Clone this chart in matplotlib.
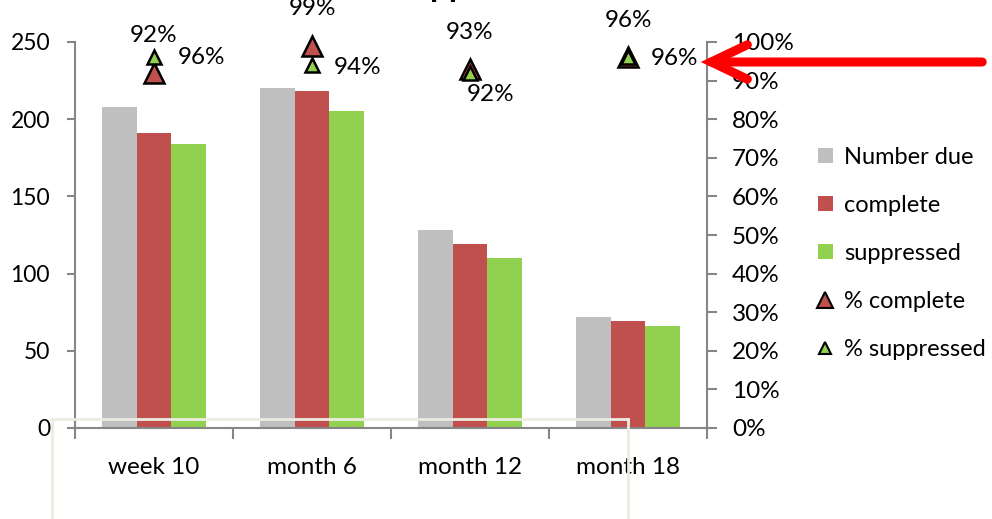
import matplotlib
matplotlib.use("Agg")
import matplotlib.pyplot as plt
import numpy as np
from matplotlib.lines import Line2D
from matplotlib.patches import Patch, FancyArrowPatch
from matplotlib.ticker import PercentFormatter, FixedLocator

plt.rcParams['font.family'] = ['Lato', 'DejaVu Sans']

categories = ["week 10", "month 6", "month 12", "month 18"]
number_due = [208, 220, 128, 72]
complete = [191, 218, 119, 69]
suppressed = [184, 205, 110, 66]
pct_complete = [0.92, 0.99, 0.93, 0.96]
pct_suppressed = [0.96, 0.94, 0.92, 0.96]

GRAY = "#BFBFBF"
RED = "#C0504D"
GREEN = "#92D050"
AXC = "#868686"
FS = 17.5

W, H = 992, 519
fig = plt.figure(figsize=(W / 100, H / 100), dpi=100)
ax = fig.add_axes([75 / W, 1 - 428 / H, (707 - 75) / W, (428 - 42) / H])
ax2 = ax.twinx()

x = np.arange(len(categories))
bw = 0.22
ax.bar(x - bw, number_due, bw, color=GRAY, label="Number due")
ax.bar(x, complete, bw, color=RED, label="complete")
ax.bar(x + bw, suppressed, bw, color=GREEN, label="suppressed")

ax.set_xlim(-0.5, 3.5)
ax.set_ylim(0, 250)
ax.set_yticks([0, 50, 100, 150, 200, 250])
ax2.set_ylim(0, 1)
ax2.set_yticks(np.arange(0, 1.01, 0.1))
ax2.yaxis.set_major_formatter(PercentFormatter(1.0, decimals=0))

ax.set_xticks(x)
ax.set_xticklabels(categories)
ax.xaxis.set_minor_locator(FixedLocator([-0.5, 0.5, 1.5, 2.5, 3.5]))
ax.tick_params(axis='x', which='major', length=0, pad=21, labelsize=FS)
ax.tick_params(axis='x', which='minor', length=8, width=1.5, color=AXC, direction='out')
ax.tick_params(axis='y', length=6, width=1.5, color=AXC, pad=12, labelsize=16.5)
ax2.tick_params(axis='y', length=7, width=1.5, color=AXC, pad=11, labelsize=FS)

for a in (ax, ax2):
    a.spines['top'].set_visible(False)
    for s in ('left', 'right', 'bottom'):
        a.spines[s].set_color(AXC)
        a.spines[s].set_linewidth(1.5)
ax.spines['right'].set_visible(False)
ax2.spines['left'].set_visible(False)
ax2.spines['bottom'].set_visible(False)

ax2.plot(x, pct_complete, linestyle='none', marker='^', markersize=15,
         markerfacecolor=RED, markeredgecolor='black', markeredgewidth=1.8, clip_on=False, zorder=5)
ax2.plot(x, pct_suppressed, linestyle='none', marker='^', markersize=10,
         markerfacecolor=GREEN, markeredgecolor='black', markeredgewidth=1.8, clip_on=False, zorder=6)

def fmt(v):
    return f"{round(v * 100):d}%"

for i, v in enumerate(pct_complete):
    ax2.annotate(fmt(v), (x[i], v), xytext=(0, 37), textcoords='offset pixels',
                 ha='center', va='center', fontsize=FS, annotation_clip=False)
green_offsets = [(24, 0, 'left'), (22, -2, 'left'), (21, -22, 'center'), (23, -1, 'left')]
for i, v in enumerate(pct_suppressed):
    dx, dy, ha = green_offsets[i]
    ax2.annotate(fmt(v), (x[i], v), xytext=(dx, dy), textcoords='offset pixels',
                 ha=ha, va='center', fontsize=FS, annotation_clip=False)

handles = [
    Patch(facecolor=GRAY, label="Number due"),
    Patch(facecolor=RED, label="complete"),
    Patch(facecolor=GREEN, label="suppressed"),
    Line2D([], [], linestyle='none', marker='^', markersize=12, markerfacecolor=RED,
           markeredgecolor='black', markeredgewidth=1.5, label="% complete"),
    Line2D([], [], linestyle='none', marker='^', markersize=9, markerfacecolor=GREEN,
           markeredgecolor='black', markeredgewidth=1.5, label="% suppressed"),
]
fig.legend(handles=handles, loc='upper left', bbox_to_anchor=(818 / W, 1 - 147 / H),
           frameon=False, fontsize=17, handlelength=0.62, handleheight=0.62,
           handletextpad=0.5, labelspacing=1.14, borderaxespad=0, borderpad=0)

# red arrow pointing at the axis
arrow = FancyArrowPatch((985 / W, 1 - 62 / H), (698 / W, 1 - 62 / H), transform=fig.transFigure,
                        arrowstyle='->,head_length=1.3,head_width=0.62', color='#FF0000',
                        lw=6.5, mutation_scale=20, capstyle='round', joinstyle='miter')
fig.add_artist(arrow)

# light overlay frame
oc = "#ECEBE2"
fig.add_artist(Line2D([52 / W, 628 / W], [1 - 419 / H, 1 - 419 / H], transform=fig.transFigure, color=oc, lw=2))
fig.add_artist(Line2D([52 / W, 52 / W], [1 - 419 / H, 0], transform=fig.transFigure, color=oc, lw=2))
fig.add_artist(Line2D([628 / W, 628 / W], [1 - 419 / H, 0], transform=fig.transFigure, color=oc, lw=2))

# cut-off title descenders at the very top
fig.text(449 / W, 1 + 3 / H, "pp", ha='center', va='baseline', fontsize=24, fontweight='bold')

fig.savefig("out.png", dpi=100)
